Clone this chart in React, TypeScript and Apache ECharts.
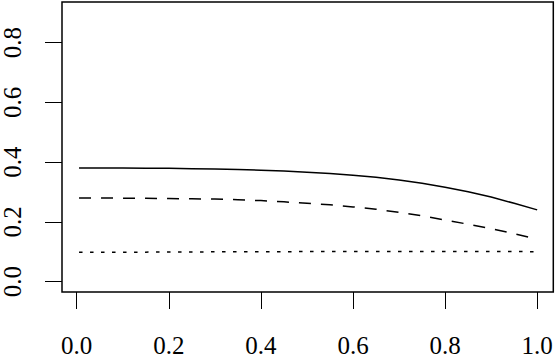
import React, { useEffect, useRef } from "react";
import * as echarts from "echarts";

const xValues = [0.005, 0.05, 0.1, 0.15, 0.2, 0.25, 0.3, 0.35, 0.4, 0.45, 0.5, 0.55, 0.6, 0.65, 0.7, 0.75, 0.8, 0.85, 0.9, 0.95, 1.0];
const solidValues = [0.38, 0.38, 0.38, 0.3795, 0.379, 0.378, 0.377, 0.375, 0.373, 0.37, 0.366, 0.362, 0.356, 0.349, 0.34, 0.329, 0.316, 0.301, 0.283, 0.262, 0.24];
const dashedValues = [0.28, 0.2798, 0.279, 0.2785, 0.278, 0.277, 0.276, 0.274, 0.271, 0.267, 0.262, 0.257, 0.25, 0.242, 0.232, 0.22, 0.206, 0.192, 0.177, 0.16, 0.142];
const dottedValues = [0.098, 0.098, 0.0985, 0.0985, 0.099, 0.099, 0.0995, 0.0995, 0.1, 0.1, 0.1005, 0.1005, 0.101, 0.101, 0.101, 0.101, 0.101, 0.1008, 0.1005, 0.1003, 0.1];
const xTicks = [0, 0.2, 0.4, 0.6, 0.8, 1.0];
const yTicks = [0, 0.2, 0.4, 0.6, 0.8];

const FONT = "'Liberation Serif', 'Times New Roman', serif";

export default function App() {
  const ref = useRef<HTMLDivElement>(null);
  useEffect(() => {
    if (!ref.current) return;
    const chart = echarts.init(ref.current, null, { renderer: "svg" });
    const pair = (ys: number[]) => xValues.map((x, i) => [x, ys[i]]);
    const lineSeries = (name: string, ys: number[], type: any) => ({
      name,
      type: "line",
      data: pair(ys),
      showSymbol: false,
      smooth: false,
      lineStyle: { color: "#000", width: 1.5, type },
      z: 3,
    });
    chart.setOption({
      animation: false,
      backgroundColor: "#fff",
      grid: {
        left: 59.5,
        right: 2.7,
        top: 2,
        bottom: 62,
        show: true,
        borderColor: "#000",
        borderWidth: 1.5,
        backgroundColor: "transparent",
      },
      xAxis: {
        type: "value",
        min: -0.032,
        max: 1.035,
        axisLine: { show: false, onZero: false },
        splitLine: { show: false },
        axisTick: {
          show: true,
          inside: false,
          length: 17,
          customValues: xTicks,
          lineStyle: { color: "#000", width: 1 },
        },
        axisLabel: {
          customValues: xTicks,
          formatter: (v: number) => v.toFixed(1),
          margin: 41,
          fontFamily: FONT,
          fontSize: 25,
          color: "#000",
        },
      },
      yAxis: {
        type: "value",
        min: -0.035,
        max: 0.936,
        axisLine: { show: false, onZero: false },
        splitLine: { show: false },
        axisTick: {
          show: true,
          inside: false,
          length: 17,
          customValues: yTicks,
          lineStyle: { color: "#000", width: 1 },
        },
        axisLabel: {
          customValues: yTicks,
          formatter: (v: number) => v.toFixed(1),
          rotate: 90,
          margin: 37,
          fontFamily: FONT,
          fontSize: 25,
          color: "#000",
        },
      },
      series: [
        lineSeries("solid", solidValues, "solid"),
        lineSeries("dashed", dashedValues, [12, 10]),
        lineSeries("dotted", dottedValues, [3.5, 7.5]),
      ],
    });
    return () => chart.dispose();
  }, []);
  return (
    <div
      ref={ref}
      style={{ position: "fixed", left: 0, top: 0, width: 556, height: 358, background: "#fff" }}
    />
  );
}
